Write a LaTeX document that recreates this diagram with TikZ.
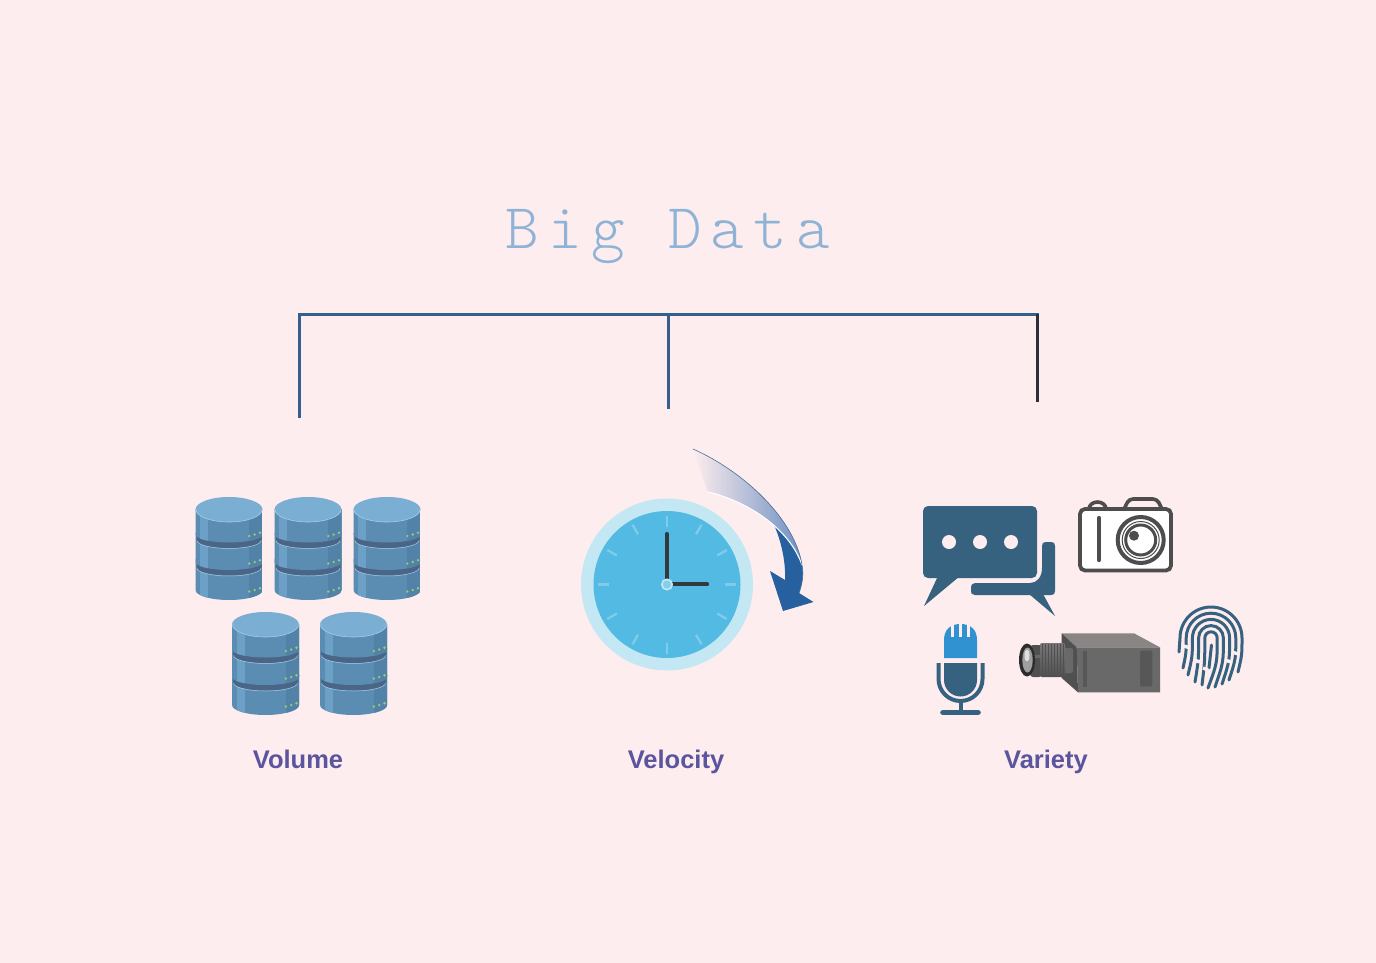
\documentclass[tikz,border=0pt]{standalone}
\usepackage{fontspec}
\usepackage{tikz}
\usetikzlibrary{positioning,arrows.meta}
\setsansfont{Liberation Sans}
\newfontfamily\titlefont[LetterSpace=14.5]{Latin Modern Mono Light}
\definecolor{bgpink}{HTML}{FDEDEE}
\definecolor{linkblue}{HTML}{355F8C}
\definecolor{linkdark}{HTML}{2F2F3A}
\definecolor{titleblue}{HTML}{8FB3D6}
\definecolor{labelviolet}{HTML}{5B549E}
\definecolor{dbtop}{HTML}{7AAED2}
\definecolor{dbbody}{HTML}{5B8DB2}
\definecolor{dblight}{HTML}{6DA0C6}
\definecolor{dbdark}{HTML}{5282A7}
\definecolor{dbband}{HTML}{4A6585}
\definecolor{dbedge}{HTML}{A5CBE3}
\definecolor{dbled}{HTML}{93CF6E}
\definecolor{clockrim}{HTML}{C3E8F3}
\definecolor{clockface}{HTML}{52BAE3}
\definecolor{clocktick}{HTML}{80CBE9}
\definecolor{clockhand}{HTML}{33383D}
\definecolor{arrowblue}{HTML}{26609F}
\definecolor{arrowpale}{HTML}{A9BBDA}
\definecolor{arrowmid}{HTML}{6E90C2}
\definecolor{iconblue}{HTML}{36617F}
\definecolor{micblue}{HTML}{3192D2}
\definecolor{iconink}{HTML}{4D4D4D}
\definecolor{camtop}{HTML}{8A8585}
\definecolor{camfront}{HTML}{696969}
\definecolor{camside}{HTML}{505050}
\definecolor{camslot}{HTML}{575757}
\tikzset{
  dbstack/.pic={
    \foreach \b/\t/\ry in {93/62/10,65/36/8,37.5/12/8}{
      \ifdim\b pt<90pt
        \fill[dbband] (-32.5,\t+14) -- (-32.5,\b+5.5) arc[start angle=180,end angle=0,x radius=32.5,y radius=8] -- (32.5,\t+14) -- cycle;
        \draw[dbedge,line width=.5pt] (-32,\b+6) arc[start angle=180,end angle=0,x radius=32,y radius=8];
      \fi
      \begin{scope}
        \clip (-33.5,\t) -- (-33.5,\b) arc[start angle=180,end angle=0,x radius=33.5,y radius=\ry] -- (33.5,\t) -- cycle;
        \fill[dbbody] (-34,\t) rectangle (34,\b+13);
        \fill[dblight] (-29,\t) rectangle (-21,\b+13);
        \fill[dbdark] (20,\t) rectangle (34,\b+13);
      \end{scope}
      \fill[dbled] (20.3,\b+1.5) circle (1.3) (25.7,\b) circle (1.3) (31,\b-1.8) circle (1.3);
    }
    \fill[dbtop] (0,12.5) ellipse [x radius=33.5,y radius=12.5];
    \draw[dbedge,line width=.6pt] (-33,12.5) arc[start angle=180,end angle=0,x radius=33,y radius=12.5];
  },
  bigtitle/.style={text=titleblue,font=\titlefont\fontsize{64}{64}\selectfont},
  vlabel/.style={text=labelviolet,anchor=base,font=\sffamily\fontsize{25.5}{26}\selectfont\bfseries},
  linkline/.style={linkblue,line width=3pt},
  ridge/.style={iconblue,line width=3pt,line cap=round}
}
\begin{document}
\begin{tikzpicture}[x=1pt,y=-1pt]
\fill[bgpink] (0,0) rectangle (1376,963);
\node[bigtitle] (title) at (668,237) {Big Data};
\node[vlabel] (volume) at (298,768) {Volume};
\node[vlabel] (velocity) at (676,768) {Velocity};
\node[vlabel] (variety) at (1046,768) {Variety};

\coordinate (hubleft) at (299,314);
\coordinate (hubmid) at (668,314);
\coordinate (hubright) at (1037,314);
\coordinate (endleft) at (299,418);
\coordinate (endmid) at (668,409);
\coordinate (endright) at (1037,402);
\draw[linkline,line cap=rect] (hubleft) -- (hubright);
\draw[linkline] (hubleft) -- (endleft);
\draw[linkline] (hubmid) -- (endmid);
\draw[linkdark,line width=3pt] (hubright) -- (endright);

% Volume
\foreach \px/\py in {229/497,308/497,387/497,265.5/612,353.5/612}
  \pic at (\px,\py) {dbstack};

% Velocity
\fill[clockrim] (667,584.5) circle (86);
\fill[clockface] (667,584.5) circle (73.5);
\foreach \a in {0,30,...,330}
  \draw[clocktick,line width=2.4pt] (667,584.5) ++(\a:58) -- ++(\a:11);
\draw[clockhand,line width=4.2pt,line cap=round] (666.7,580) -- (666.7,534);
\draw[clockhand,line width=4.2pt,line cap=round] (672,584.3) -- (707,584.3);
\draw[clockrim,line width=1.6pt,fill=clockface!70!white] (667,584.5) circle (5.2);

\fill[arrowblue] (773,523) .. controls (785,535) and (798,550) .. (802,565)
  .. controls (804,575) and (802,585) .. (799,593) -- (813.5,602) -- (783,611) -- (770,571) -- (785,580)
  .. controls (786,560) and (780,537) .. (773,523) -- cycle;
\shade[left color=bgpink,middle color=arrowpale,right color=arrowmid]
  (693,449) .. controls (745,472) and (795,520) .. (802,565)
  .. controls (790,530) and (750,502) .. (708,492) -- cycle;
\draw[white,line width=1.1pt] (708,492) .. controls (750,502) and (790,530) .. (802,565);
\draw[arrowblue!60!gray,line width=.6pt] (693,449) .. controls (745,472) and (795,520) .. (802,565)
  .. controls (804,575) and (802,585) .. (799,593);

% Variety
\fill[iconblue] (975,583) -- (1030,583) .. controls (1037,583) and (1042,577) .. (1042,568) -- (1042,546)
  .. controls (1042,543) and (1043,542) .. (1046,542) -- (1051,542) .. controls (1054,542) and (1055,543) .. (1055,546)
  -- (1055,591) .. controls (1055,594) and (1054,595) .. (1051,595) -- (975,595)
  .. controls (972,595) and (971,594) .. (971,589) .. controls (971,585) and (972,583) .. (975,583) -- cycle;
\fill[iconblue] (1029,594) -- (1043,594) -- (1055,616) -- cycle;
\fill[iconblue,rounded corners=5pt] (923,506) rectangle (1037,578);
\fill[iconblue] (938,576) -- (960,576) -- (924,606) -- cycle;
\foreach \dx in {949,980,1011}
  \fill[bgpink] (\dx,542) circle (7);

\draw[iconink,line width=3.6pt] (1089,509) arc[start angle=180,end angle=360,x radius=8.5,y radius=7];
\draw[iconink,line width=3.6pt,rounded corners=4pt] (1124,509) -- (1129,499) -- (1157,499) -- (1162,509);
\draw[iconink,line width=3.8pt,fill=white,rounded corners=5pt] (1080,509) rectangle (1171,570.5);
\draw[iconink,line width=4.2pt,line cap=round] (1099,518) -- (1099,560);
\draw[iconink,line width=4pt] (1140.7,540) circle (23);
\draw[iconink,line width=1pt] (1140.7,540) circle (18.5);
\draw[iconink,line width=3pt] (1140.7,540) circle (15);
\fill[iconink] (1134,535.7) circle (5);

\fill[micblue] (944,658) -- (944,640) .. controls (944,630) and (950,624) .. (960.5,624)
  .. controls (971,624) and (977,630) .. (977,640) -- (977,658) -- cycle;
\foreach \sx in {952.5,960.5,968.5}
  \draw[bgpink,line width=2.2pt] (\sx,622) -- (\sx,637);
\fill[iconblue] (944,663) -- (977,663) -- (977,680) arc[start angle=0,end angle=180,radius=16.5] -- cycle;
\draw[iconblue,line width=4pt] (938.5,663) -- (938.5,679) arc[start angle=180,end angle=0,radius=22] -- (982.5,663);
\draw[iconblue,line width=4pt] (960.5,701) -- (960.5,712);
\draw[iconblue,line width=5.6pt,line cap=round] (943,712.5) -- (978,712.5);

\fill[camtop] (1061.7,633.3) -- (1134,633.3) -- (1160,647.3) -- (1076.7,647.3) -- cycle;
\fill[camfront] (1076.7,647.3) -- (1160,647.3) -- (1160,692.3) -- (1078,692.3) -- cycle;
\fill[camside] (1061.7,633.3) -- (1076.7,647.3) -- (1078,692.3) -- (1061.7,678) -- cycle;
\fill[camslot,rounded corners=1.5pt] (1140,650.7) rectangle (1152.3,686.7);
\fill[camslot] (1083.3,650.7) rectangle (1086.7,686.7);
\fill[camfront,rounded corners=2pt] (1063,648) rectangle (1073,673);
\fill[camside,rounded corners=3pt] (1030,645) rectangle (1042,677);
\fill[camfront] (1030,655) rectangle (1041,658);
\shade[top color=camfront!90!white,bottom color=camside,rounded corners=2pt] (1040,643) rectangle (1065,677);
\foreach \tx in {1042,1045,...,1064}
  \draw[camside,line width=.5pt] (\tx,644) -- (\tx,676);
\fill[camside!55!black] (1027,660) ellipse [x radius=8,y radius=16.5];
\fill[gray!75] (1027.5,660) ellipse [x radius=5.2,y radius=12.5];
\fill[gray!25] (1027,655.5) ellipse [x radius=2.5,y radius=6];

\foreach \r/\lx/\ly/\rx/\ry in {31/1179/652/1238/672,24.8/1183/668/1229/680,18.6/1188/675/1222/684,12.4/1195/682/1215/687,6.2/1202/685/1208/688}{
  \draw[ridge] (\lx,\ly) .. controls (1211-\r,.5*\ly+319) .. (1211-\r,638)
    arc[start angle=180,end angle=360,radius=\r]
    .. controls (1211+\r,.5*\ry+319) .. (\rx,\ry);
}
\draw[ridge] (1211.5,645) -- (1209,668);
\draw[bgpink,line width=3.4pt] (1194,660) -- (1200,662) (1225,660) -- (1231,662) (1184,646) -- (1190,648)
  (1203,668) -- (1208,670) (1232,652) -- (1238,654);
\end{tikzpicture}
\end{document}
